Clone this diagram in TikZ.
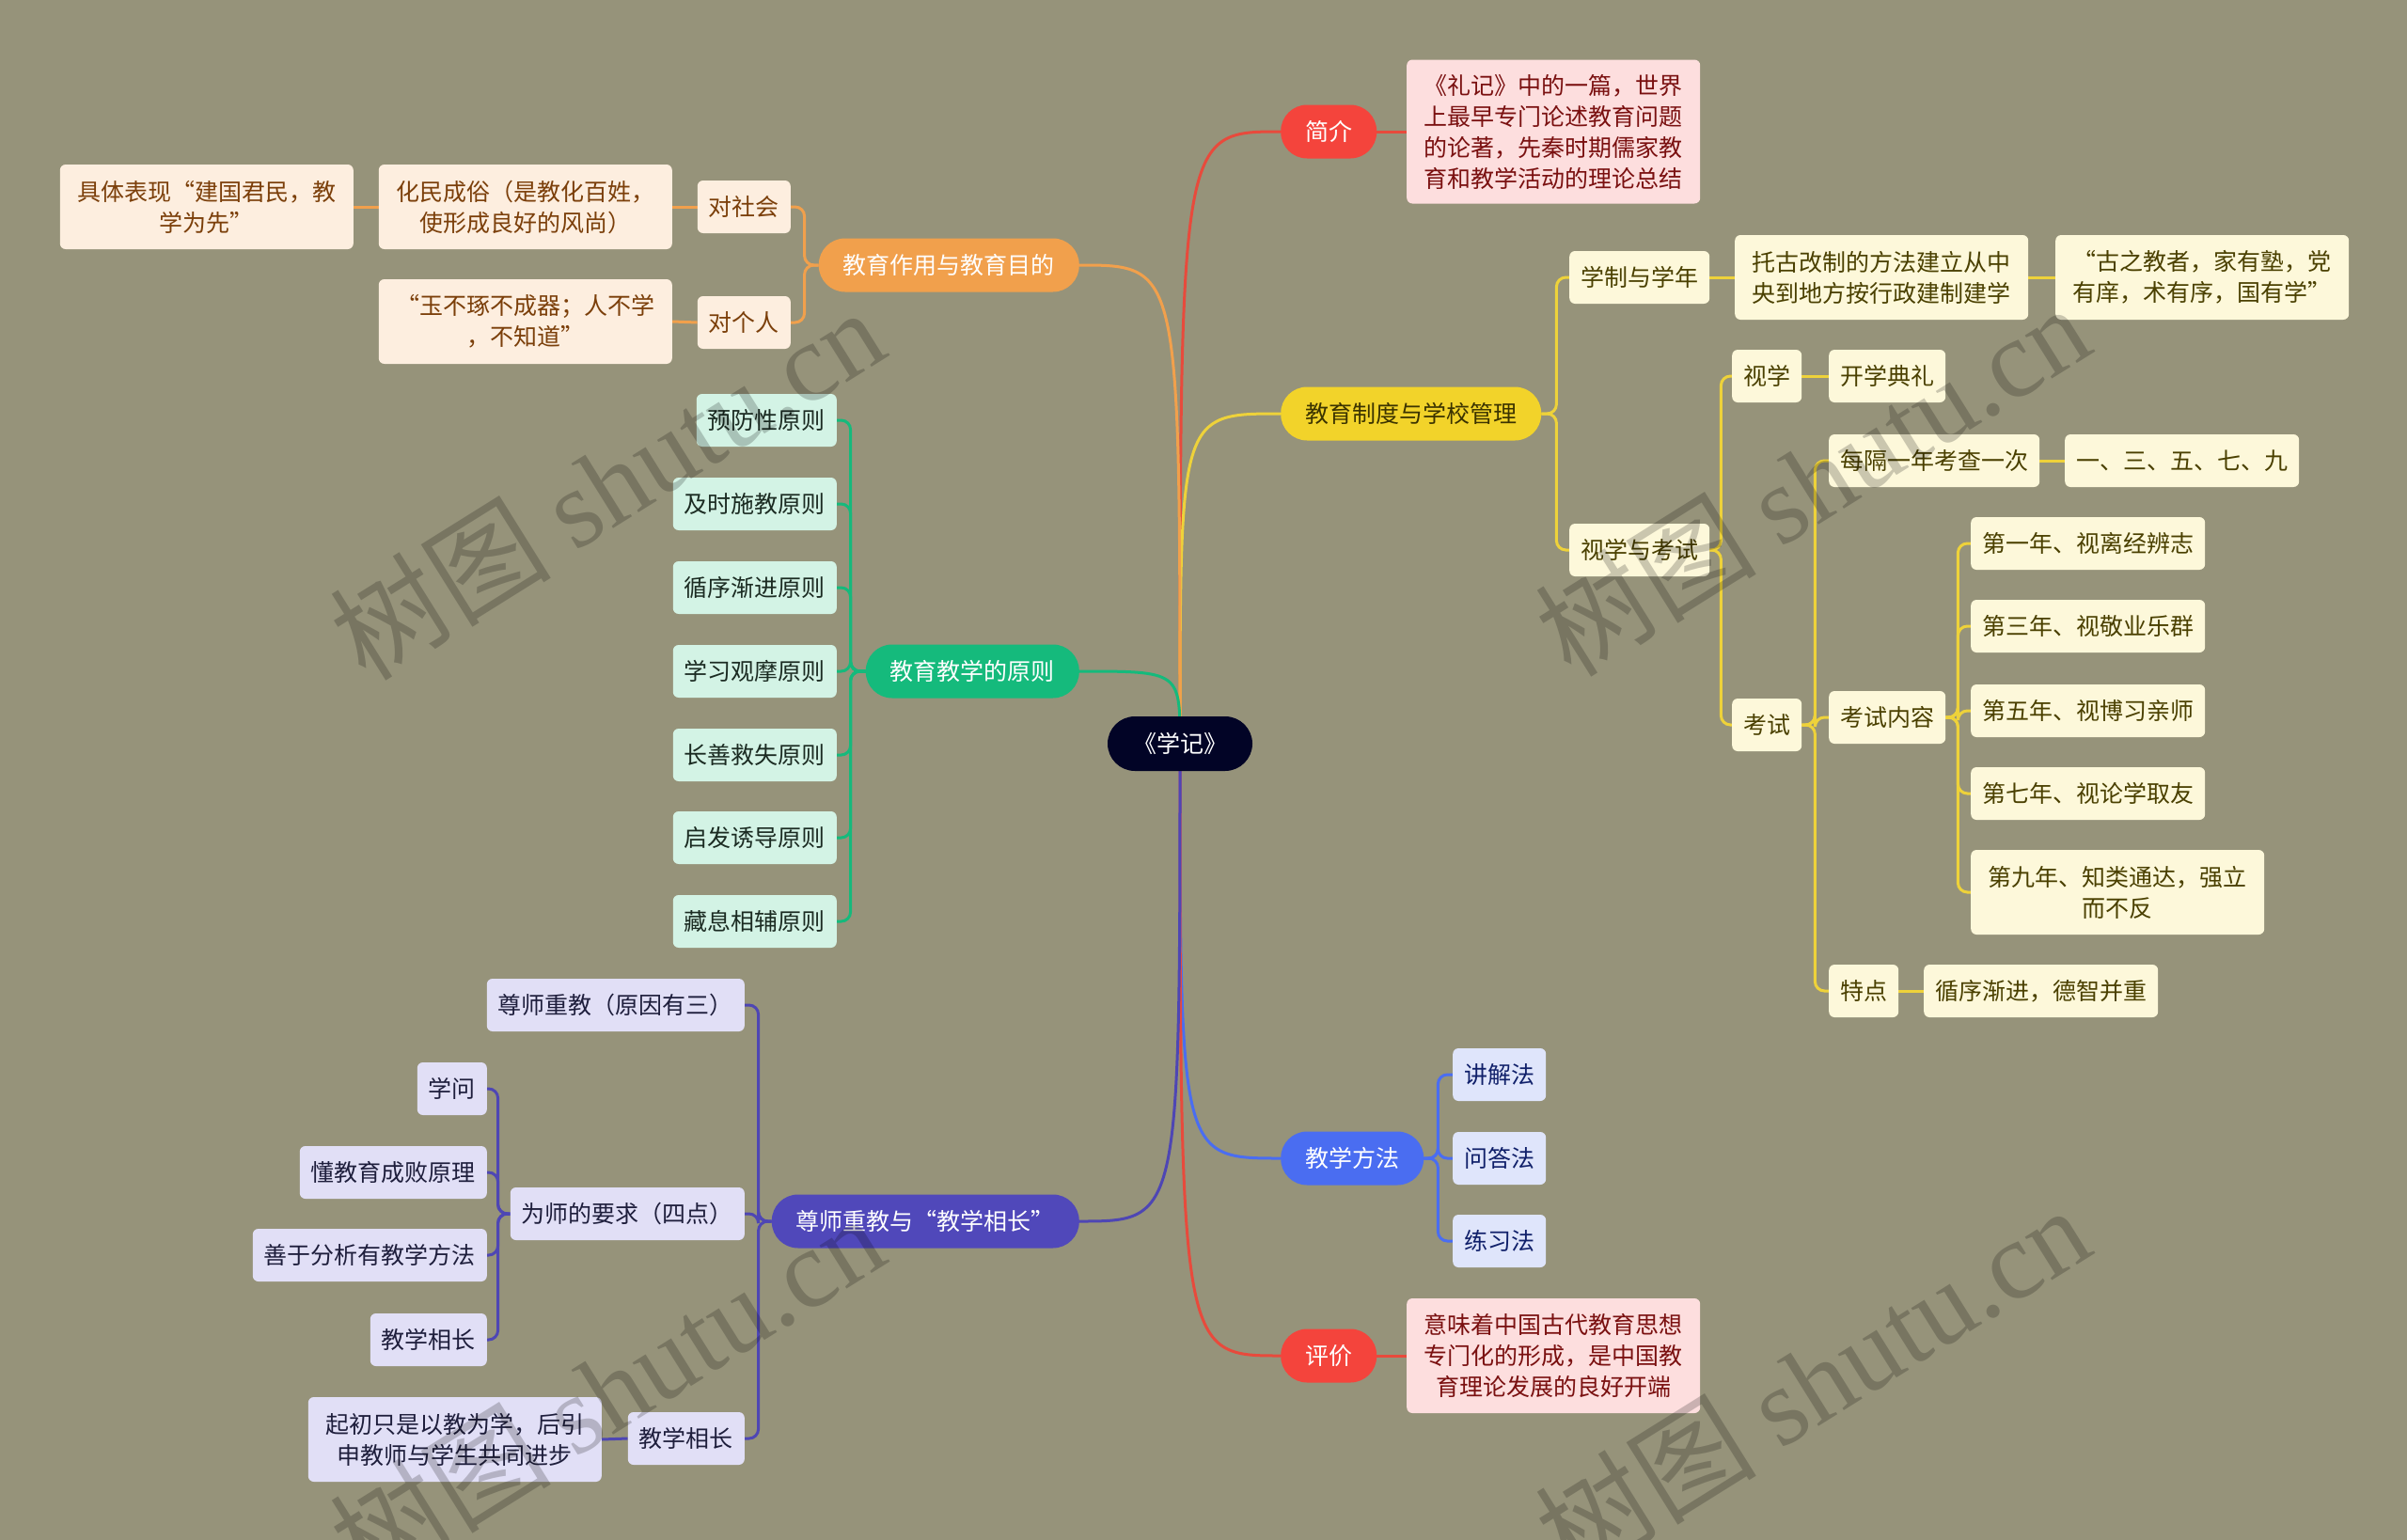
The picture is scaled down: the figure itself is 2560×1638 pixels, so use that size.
\documentclass[tikz,border=0pt]{standalone}
\usepackage{fontspec}
\setmainfont{Noto Sans CJK SC}
\newfontfamily\wmlat{Liberation Serif}
\pgfdeclarelayer{bgl}
\pgfdeclarelayer{edg}
\pgfsetlayers{bgl,edg,main}
\definecolor{bgc}{HTML}{96937A}
\definecolor{ctr}{HTML}{020426}
\definecolor{orgP}{HTML}{F1A04C}\definecolor{orgL}{HTML}{FDEEDF}\definecolor{orgT}{HTML}{7B3F0A}
\definecolor{ylwP}{HTML}{F2D32A}\definecolor{ylwL}{HTML}{FDF8DA}\definecolor{ylwT}{HTML}{4A4000}\definecolor{ylwE}{HTML}{EED23A}
\definecolor{redP}{HTML}{F4443C}\definecolor{redL}{HTML}{FDDEDE}\definecolor{redT}{HTML}{7A1010}\definecolor{redE}{HTML}{E84A3C}
\definecolor{grnP}{HTML}{15BA7C}\definecolor{grnL}{HTML}{D3F3E5}\definecolor{grnT}{HTML}{1B2B22}
\definecolor{bluP}{HTML}{4A6DF1}\definecolor{bluL}{HTML}{DFE5FB}\definecolor{bluT}{HTML}{10206A}
\definecolor{purP}{HTML}{5048BA}\definecolor{purL}{HTML}{E1DFF6}\definecolor{purT}{HTML}{1E1E3C}\definecolor{purE}{HTML}{4E46B4}
\tikzset{
  base/.style={font=\fontsize{25}{33}\selectfont, inner ysep=4pt, align=center},
  pill/.style={base, rounded corners=28pt, minimum height=57pt, inner xsep=26pt, text=white},
  leaf/.style={base, rounded corners=6pt, minimum height=56pt, inner xsep=12pt},
  twol/.style={minimum height=90pt, minimum width=312pt, inner xsep=16pt},
  threel/.style={minimum height=122pt, minimum width=312pt, inner xsep=16pt},
  fourl/.style={minimum height=153pt, minimum width=312pt, inner xsep=16pt},
  oL/.style={leaf, fill=orgL, text=orgT},
  yL/.style={leaf, fill=ylwL, text=ylwT},
  rL/.style={leaf, fill=redL, text=redT},
  gL/.style={leaf, fill=grnL, text=grnT},
  bL/.style={leaf, fill=bluL, text=bluT},
  pL/.style={leaf, fill=purL, text=purT},
  conn/.style={line width=3pt, rounded corners=10pt},
  wm/.style={rotate=32, opacity=0.2, text=black, font=\fontsize{118}{130}\selectfont},
}
\begin{document}
\begin{tikzpicture}[x=1pt,y=-1pt]
\useasboundingbox (0,0) rectangle (2560,1638);
\begin{pgfonlayer}{bgl}
\fill[bgc] (0,0) rectangle (2560,1638);
\end{pgfonlayer}

% central
\node[pill, fill=ctr, rounded corners=29pt, minimum height=58pt, inner xsep=27pt] (c) at (1255,791) {《学记》};

% ---------- right side ----------
\node[pill, fill=redP, anchor=west] (jj) at (1362,140) {简介};
\node[rL, fourl, anchor=west] (jjL) at (1496,140) {《礼记》中的一篇，世界\\上最早专门论述教育问题\\的论著，先秦时期儒家教\\育和教学活动的理论总结};

\node[pill, fill=ylwP, text=ylwT!80!black, anchor=west] (zd) at (1362,440) {教育制度与学校管理};
\node[yL, anchor=west] (xz) at (1669,295) {学制与学年};
\node[yL, twol, anchor=west] (tg) at (1845,295) {托古改制的方法建立从中\\央到地方按行政建制建学};
\node[yL, twol, anchor=west] (gz) at (2186,295) {“古之教者，家有塾，党\\有庠，术有序，国有学”};
\node[yL, anchor=west] (sk) at (1669,585) {视学与考试};
\node[yL, anchor=west] (sx) at (1842,400) {视学};
\node[yL, anchor=west] (kx) at (1945,400) {开学典礼};
\node[yL, anchor=west] (ks) at (1842,771) {考试};
\node[yL, anchor=west] (mg) at (1945,490) {每隔一年考查一次};
\node[yL, anchor=west] (yi) at (2196,490) {一、三、五、七、九};
\node[yL, anchor=west] (ksnr) at (1945,763) {考试内容};
\node[yL, anchor=west] (d1) at (2096,578) {第一年、视离经辨志};
\node[yL, anchor=west] (d3) at (2096,666) {第三年、视敬业乐群};
\node[yL, anchor=west] (d5) at (2096,756) {第五年、视博习亲师};
\node[yL, anchor=west] (d7) at (2096,844) {第七年、视论学取友};
\node[yL, twol, anchor=west] (d9) at (2096,949) {第九年、知类通达，强立\\而不反};
\node[yL, anchor=west] (td) at (1945,1054) {特点};
\node[yL, anchor=west] (xx) at (2046,1054) {循序渐进，德智并重};

\node[pill, fill=bluP, anchor=west] (ff) at (1362,1232) {教学方法};
\node[bL, anchor=west] (f1) at (1545,1143) {讲解法};
\node[bL, anchor=west] (f2) at (1545,1232) {问答法};
\node[bL, anchor=west] (f3) at (1545,1320) {练习法};

\node[pill, fill=redP, anchor=west] (pj) at (1362,1442) {评价};
\node[rL, threel, anchor=west] (pjL) at (1496,1442) {意味着中国古代教育思想\\专门化的形成，是中国教\\育理论发展的良好开端};

% ---------- left side ----------
\node[pill, fill=orgP, anchor=east] (zy) at (1148,282) {教育作用与教育目的};
\node[oL, anchor=east] (dsh) at (841,220) {对社会};
\node[oL, twol, anchor=east] (hm) at (715,220) {化民成俗（是教化百姓，\\使形成良好的风尚）};
\node[oL, twol, anchor=east] (jt) at (376,220) {具体表现“建国君民，教\\学为先”};
\node[oL, anchor=east] (dgr) at (841,343) {对个人};
\node[oL, twol, anchor=east] (yb) at (715,342) {“玉不琢不成器；人不学\\，不知道”};

\node[pill, fill=grnP, anchor=east] (yz) at (1148,714) {教育教学的原则};
\node[gL, anchor=east] (p1) at (890,447) {预防性原则};
\node[gL, anchor=east] (p2) at (890,536) {及时施教原则};
\node[gL, anchor=east] (p3) at (890,625) {循序渐进原则};
\node[gL, anchor=east] (p4) at (890,714) {学习观摩原则};
\node[gL, anchor=east] (p5) at (890,803) {长善救失原则};
\node[gL, anchor=east] (p6) at (890,891) {启发诱导原则};
\node[gL, anchor=east] (p7) at (890,980) {藏息相辅原则};

\node[pill, fill=purP, anchor=east] (zs) at (1148,1299) {尊师重教与“教学相长”};
\node[pL, anchor=east] (zs1) at (792,1069) {尊师重教（原因有三）};
\node[pL, anchor=east] (ws) at (792,1291) {为师的要求（四点）};
\node[pL, anchor=east] (w1) at (518,1158) {学问};
\node[pL, anchor=east] (w2) at (518,1247) {懂教育成败原理};
\node[pL, anchor=east] (w3) at (518,1335) {善于分析有教学方法};
\node[pL, anchor=east] (w4) at (518,1425) {教学相长};
\node[pL, anchor=east] (jx) at (792,1530) {教学相长};
\node[pL, twol, anchor=east] (qc) at (640,1531) {起初只是以教为学，后引\\申教师与学生共同进步};

% ---------- connectors ----------
\begin{pgfonlayer}{edg}
% main branches
\draw[line width=3pt, redE] (c.center) .. controls (c.center |- jj.west) .. (jj.west);
\draw[line width=3pt, ylwE] (c.center) .. controls (c.center |- zd.west) .. (zd.west);
\draw[line width=3pt, bluP] (c.center) .. controls (c.center |- ff.west) .. (ff.west);
\draw[line width=3pt, redE] (c.center) .. controls (c.center |- pj.west) .. (pj.west);
\draw[line width=3pt, orgP] (c.center) .. controls (c.center |- zy.east) .. (zy.east);
\draw[line width=3pt, grnP] (c.center) .. controls (c.center |- yz.east) .. (yz.east);
\draw[line width=3pt, purE] (c.center) .. controls (c.center |- zs.east) .. (zs.east);
% red
\draw[conn, redE] (jj.east) -- (jjL.west);
\draw[conn, redE] (pj.east) -- (pjL.west);
% yellow
\foreach \t in {xz,sk} \draw[conn, ylwE] (zd.east) -- ++(16,0) |- (\t.west);
\draw[conn, ylwE] (xz.east) -- (tg.west);
\draw[conn, ylwE] (tg.east) -- (gz.west);
\foreach \t in {sx,ks} \draw[conn, ylwE] (sk.east) -- ++(12,0) |- (\t.west);
\draw[conn, ylwE] (sx.east) -- (kx.west);
\foreach \t in {mg,ksnr,td} \draw[conn, ylwE] (ks.east) -- ++(14,0) |- (\t.west);
\draw[conn, ylwE] (mg.east) -- (yi.west);
\foreach \t in {d1,d3,d5,d7,d9} \draw[conn, ylwE] (ksnr.east) -- ++(13,0) |- (\t.west);
\draw[conn, ylwE] (td.east) -- (xx.west);
% blue
\foreach \t in {f1,f2,f3} \draw[conn, bluP] (ff.east) -- ++(15,0) |- (\t.west);
% orange
\foreach \t in {dsh,dgr} \draw[conn, orgP] (zy.west) -- ++(-15,0) |- (\t.east);
\draw[conn, orgP] (dsh.west) -- (hm.east);
\draw[conn, orgP] (hm.west) -- (jt.east);
\draw[conn, orgP] (dgr.west) -- (yb.east);
% green
\foreach \t in {p1,p2,p3,p4,p5,p6,p7} \draw[conn, grnP] (yz.west) -- ++(-16,0) |- (\t.east);
% purple
\foreach \t in {zs1,ws,jx} \draw[conn, purE] (zs.west) -- ++(-14,0) |- (\t.east);
\foreach \t in {w1,w2,w3,w4} \draw[conn, purE] (ws.west) -- ++(-13,0) |- (\t.east);
\draw[conn, purE] (jx.west) -- (qc.east);
\end{pgfonlayer}

% watermarks
\node[wm] (wm1) at (645,514) {树图 {\wmlat shutu.cn}};
\node[wm] (wm2) at (1927,510) {树图 {\wmlat shutu.cn}};
\node[wm] (wm3) at (645,1478) {树图 {\wmlat shutu.cn}};
\node[wm] (wm4) at (1927,1469) {树图 {\wmlat shutu.cn}};
\end{tikzpicture}
\end{document}
